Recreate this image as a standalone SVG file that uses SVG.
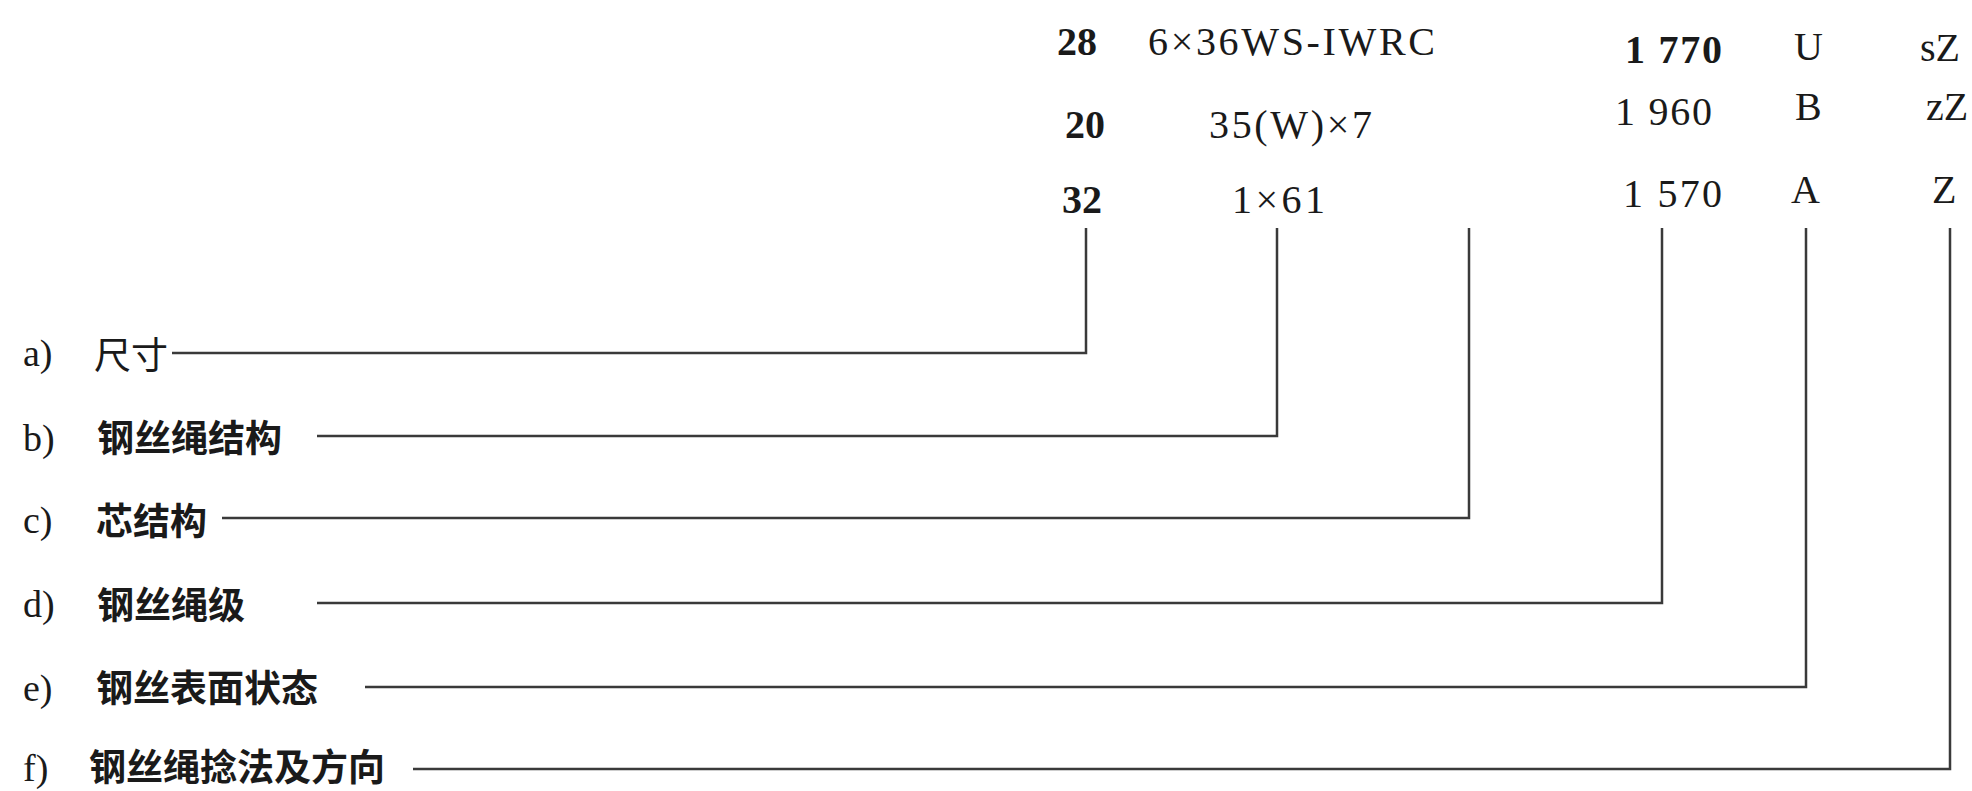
<svg xmlns="http://www.w3.org/2000/svg" width="1972" height="791" viewBox="0 0 1972 791">
<style>
.lat{font-family:"Liberation Serif","Times New Roman",serif;font-size:38px;fill:#1a1a1a}
.top{font-size:40px}
.b{font-weight:bold}
.zh{font-family:"Noto Sans CJK SC","Noto Sans",sans-serif;font-size:37px;font-weight:bold;fill:#1a1a1a}
.zhn{font-family:"Noto Sans CJK SC","Noto Sans",sans-serif;font-size:37px;font-weight:normal;fill:#1a1a1a}
.con{fill:none;stroke:#3a3a3a;stroke-width:2.5}
</style>
<rect width="1972" height="791" fill="#ffffff"/>
<g id="values">
  <g id="col-size">
    <text class="lat top b" x="1057" y="55">28</text>
    <text class="lat top b" x="1065" y="138">20</text>
    <text class="lat top b" x="1062" y="213">32</text>
  </g>
  <g id="col-structure">
    <text class="lat top" x="1148" y="55" textLength="287" lengthAdjust="spacing">6×36WS-IWRC</text>
    <text class="lat top" x="1209" y="138" textLength="163" lengthAdjust="spacing">35(W)×7</text>
    <text class="lat top" x="1232" y="213" textLength="93" lengthAdjust="spacing">1×61</text>
  </g>
  <g id="col-grade">
    <text class="lat top" x="1625" y="63" textLength="97" lengthAdjust="spacing" style="font-weight:600">1 770</text>
    <text class="lat top" x="1615" y="125" textLength="97" lengthAdjust="spacing">1 960</text>
    <text class="lat top" x="1623" y="207" textLength="99" lengthAdjust="spacing">1 570</text>
  </g>
  <g id="col-surface">
    <text class="lat top" x="1794" y="60">U</text>
    <text class="lat top" x="1795" y="120">B</text>
    <text class="lat top" x="1791" y="203">A</text>
  </g>
  <g id="col-lay">
    <text class="lat top" x="1920" y="61">sZ</text>
    <text class="lat top" x="1926" y="120">zZ</text>
    <text class="lat top" x="1932" y="203">Z</text>
  </g>
</g>
<g id="label-a"><text class="lat" x="23" y="366">a)</text><text class="zhn" x="94" y="369">尺寸</text></g>
<g id="label-b"><text class="lat" x="23" y="451">b)</text><text class="zh" x="97" y="452">钢丝绳结构</text></g>
<g id="label-c"><text class="lat" x="23" y="533">c)</text><text class="zh" x="96" y="535">芯结构</text></g>
<g id="label-d"><text class="lat" x="23" y="617">d)</text><text class="zh" x="97" y="619">钢丝绳级</text></g>
<g id="label-e"><text class="lat" x="23" y="701">e)</text><text class="zh" x="96" y="702">钢丝表面状态</text></g>
<g id="label-f"><text class="lat" x="23" y="781">f)</text><text class="zh" x="89" y="781">钢丝绳捻法及方向</text></g>
<g id="connectors">
  <path class="con" d="M172,353 H1086 V228"/>
  <path class="con" d="M317,436 H1277 V228"/>
  <path class="con" d="M222,518 H1469 V228"/>
  <path class="con" d="M317,603 H1662 V228"/>
  <path class="con" d="M365,687 H1806 V228"/>
  <path class="con" d="M413,769 H1950 V228"/>
</g>
</svg>
